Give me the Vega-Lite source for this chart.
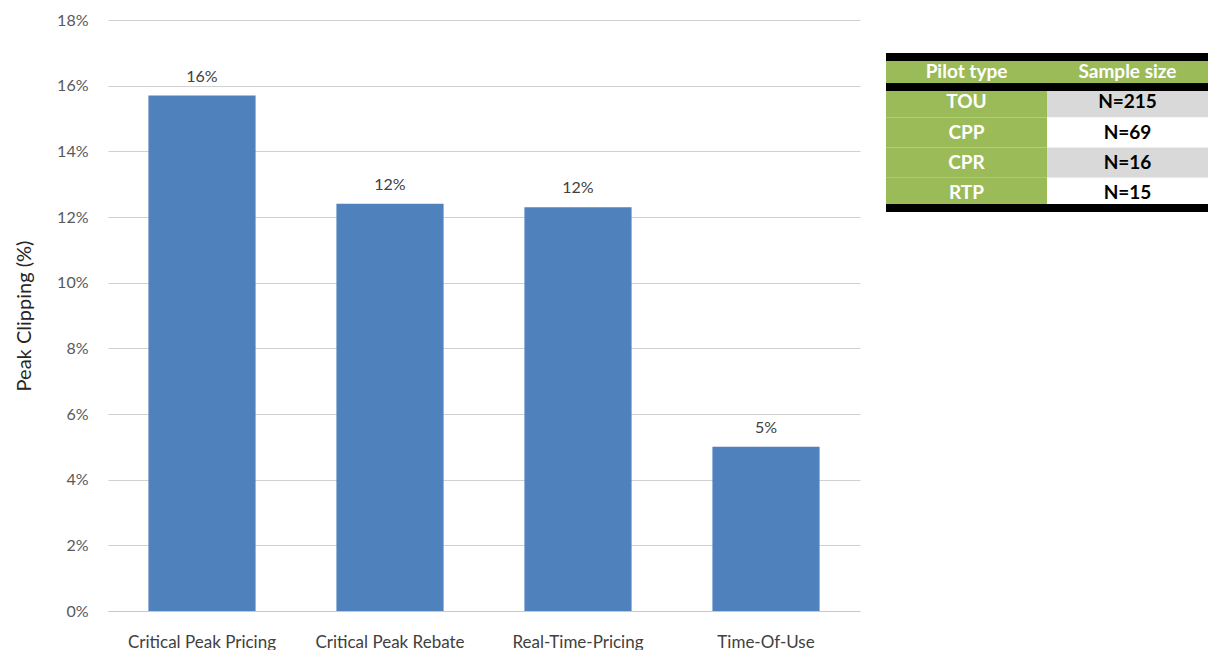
{
  "$schema": "https://vega.github.io/schema/vega-lite/v6.json",
  "background": "white",
  "padding": {"left": 14, "top": 12, "right": 0, "bottom": 0},
  "spacing": 22,
  "config": {"view": {"stroke": null}, "font": "Lato"},
  "datasets": {
    "bars": [
      {"pricing": "Critical Peak Pricing", "clipping": 0.157},
      {"pricing": "Critical Peak Rebate", "clipping": 0.124},
      {"pricing": "Real-Time-Pricing", "clipping": 0.123},
      {"pricing": "Time-Of-Use", "clipping": 0.050}
    ],
    "table": [
      {"row": "header", "col": "Pilot type", "label": "Pilot type"},
      {"row": "header", "col": "Sample size", "label": "Sample size"},
      {"row": "TOU", "col": "Pilot type", "label": "TOU"},
      {"row": "TOU", "col": "Sample size", "label": "N=215"},
      {"row": "CPP", "col": "Pilot type", "label": "CPP"},
      {"row": "CPP", "col": "Sample size", "label": "N=69"},
      {"row": "CPR", "col": "Pilot type", "label": "CPR"},
      {"row": "CPR", "col": "Sample size", "label": "N=16"},
      {"row": "RTP", "col": "Pilot type", "label": "RTP"},
      {"row": "RTP", "col": "Sample size", "label": "N=15"}
    ]
  },
  "hconcat": [
    {
      "width": 752,
      "height": 591,
      "data": {"name": "bars"},
      "encoding": {
        "x": {
          "field": "pricing", "type": "nominal", "sort": null,
          "scale": {"paddingInner": 0.43, "paddingOuter": 0.215},
          "axis": {"title": null, "labelAngle": 0, "ticks": false, "domain": true, "domainColor": "#C8C8C8", "labelFontSize": 17, "labelColor": "#404040", "labelPadding": 23}
        },
        "y": {
          "field": "clipping", "type": "quantitative",
          "scale": {"domain": [0, 0.18], "nice": false},
          "axis": {"title": "Peak Clipping (%)", "format": ".0%", "values": [0, 0.02, 0.04, 0.06, 0.08, 0.1, 0.12, 0.14, 0.16, 0.18], "ticks": false, "domain": false, "gridColor": "#D0D0D0", "labelFontSize": 16, "labelColor": "#595959", "labelPadding": 20, "titleFontSize": 20, "titleFontWeight": "normal", "titleColor": "#262626", "titlePadding": 22}
        }
      },
      "layer": [
        {"mark": {"type": "bar", "color": "#4F81BD"}},
        {"mark": {"type": "text", "baseline": "bottom", "dy": -11, "fontSize": 16, "color": "#404040"},
         "encoding": {"text": {"field": "clipping", "type": "quantitative", "format": ".0%"}}}
      ]
    },
    {
      "width": 322,
      "height": 200,
      "data": {"name": "table"},
      "layer": [
        {
          "mark": {"type": "rect"},
          "encoding": {
            "x": {"field": "col", "type": "nominal", "sort": ["Pilot type", "Sample size"], "axis": null, "scale": {"paddingInner": 0, "paddingOuter": 0}},
            "y": {"field": "row", "type": "nominal", "sort": ["header", "TOU", "CPP", "CPR", "RTP"], "axis": null, "scale": {"range": [37, 188], "paddingInner": 0, "paddingOuter": 0}},
            "fill": {
              "condition": [
                {"test": "datum.row === 'header' || datum.col === 'Pilot type'", "value": "#9BBB59"},
                {"test": "datum.row === 'TOU' || datum.row === 'CPR'", "value": "#D9D9D9"}
              ],
              "value": "white"
            }
          }
        },
        {
          "mark": {"type": "text", "fontWeight": "bold", "fontSize": 19},
          "encoding": {
            "x": {"field": "col", "type": "nominal", "sort": ["Pilot type", "Sample size"], "axis": null},
            "y": {"field": "row", "type": "nominal", "sort": ["header", "TOU", "CPP", "CPR", "RTP"], "axis": null},
            "text": {"field": "label"},
            "color": {
              "condition": {"test": "datum.row === 'header' || datum.col === 'Pilot type'", "value": "white"},
              "value": "black"
            }
          }
        },
        {
          "mark": {"type": "rule", "color": "black", "strokeWidth": 7},
          "encoding": {"y": {"datum": "header", "type": "nominal", "bandPosition": 0}}
        },
        {
          "mark": {"type": "rule", "color": "black", "strokeWidth": 7},
          "encoding": {"y": {"datum": "header", "type": "nominal", "bandPosition": 1}}
        },
        {
          "mark": {"type": "rule", "color": "black", "strokeWidth": 7},
          "encoding": {"y": {"datum": "RTP", "type": "nominal", "bandPosition": 1}}
        }
      ]
    }
  ]
}
